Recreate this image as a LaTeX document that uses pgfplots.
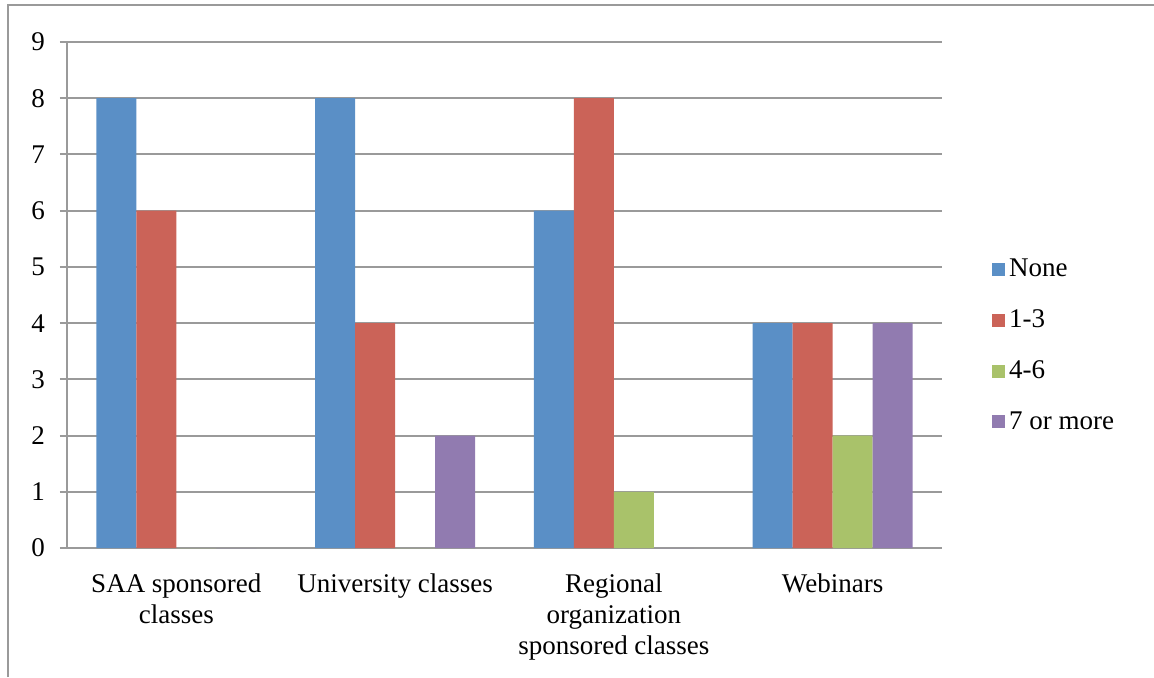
\documentclass[border=0pt]{standalone}
\usepackage{fontspec}
\setmainfont{Liberation Serif}
\usepackage{pgfplots}
\pgfplotsset{compat=1.18}
\definecolor{cNone}{HTML}{5A8FC6}
\definecolor{cOne}{HTML}{CB6358}
\definecolor{cFour}{HTML}{A9C26A}
\definecolor{cSeven}{HTML}{917BB0}
\definecolor{gridgray}{HTML}{9A9A9A}
\begin{document}
\begin{tikzpicture}
\useasboundingbox (0,0) rectangle (577pt,338.5pt);
\draw[gridgray, line width=1pt] (4pt,0) -- (4pt,336pt) -- (577pt,336pt);
\begin{axis}[
  at={(33.5pt,64.5pt)}, anchor=south west,
  scale only axis, width=437.5pt, height=253pt,
  ybar=0pt, bar width=20pt,
  xmin=-0.5, xmax=3.5, ymin=0, ymax=9,
  ytick={0,...,9},
  xtick={0,1,2,3},
  xticklabels={{SAA sponsored\\classes},{University classes},{Regional\\organization\\sponsored classes},{Webinars}},
  x tick style={draw=none},
  extra x ticks={-0.5,0.5,1.5,2.5,3.5},
  extra x tick labels={},
  extra x tick style={grid=none, major tick length=3.5pt, tick style={draw=gridgray, line width=1pt}},
  y tick style={draw=gridgray, line width=1pt},
  major tick length=3.5pt,
  tick align=outside,
  axis x line*=bottom, axis y line*=left,
  axis line style={draw=gridgray, line width=1pt, -},
  ymajorgrids, major grid style={draw=gridgray, line width=1pt},
  tick label style={font=\fontsize{13.5}{15.5}\selectfont},
  xticklabel style={align=center, anchor=north, yshift=-6pt},
  yticklabel style={xshift=-4pt},
  /pgf/number format/assume math mode=true,
  legend style={at={(1.05,0.40)}, anchor=west, draw=none, fill=none,
    font=\fontsize{13.5}{15.5}\selectfont, row sep=11pt,
    legend cell align=left, nodes={inner sep=2pt}},
  legend image code/.code={\fill[#1] (0pt,-3.25pt) rectangle (6.5pt,3.25pt);},
]
\addplot[fill=cNone, draw=none] coordinates {(0,8) (1,8) (2,6) (3,4)};
\addplot[fill=cOne, draw=none] coordinates {(0,6) (1,4) (2,8) (3,4)};
\addplot[fill=cFour, draw=none] coordinates {(0,0) (1,0) (2,1) (3,2)};
\addplot[fill=cSeven, draw=none] coordinates {(0,0) (1,2) (2,0) (3,4)};
\legend{None,1-3,4-6,7 or more}
\end{axis}
\end{tikzpicture}
\end{document}
